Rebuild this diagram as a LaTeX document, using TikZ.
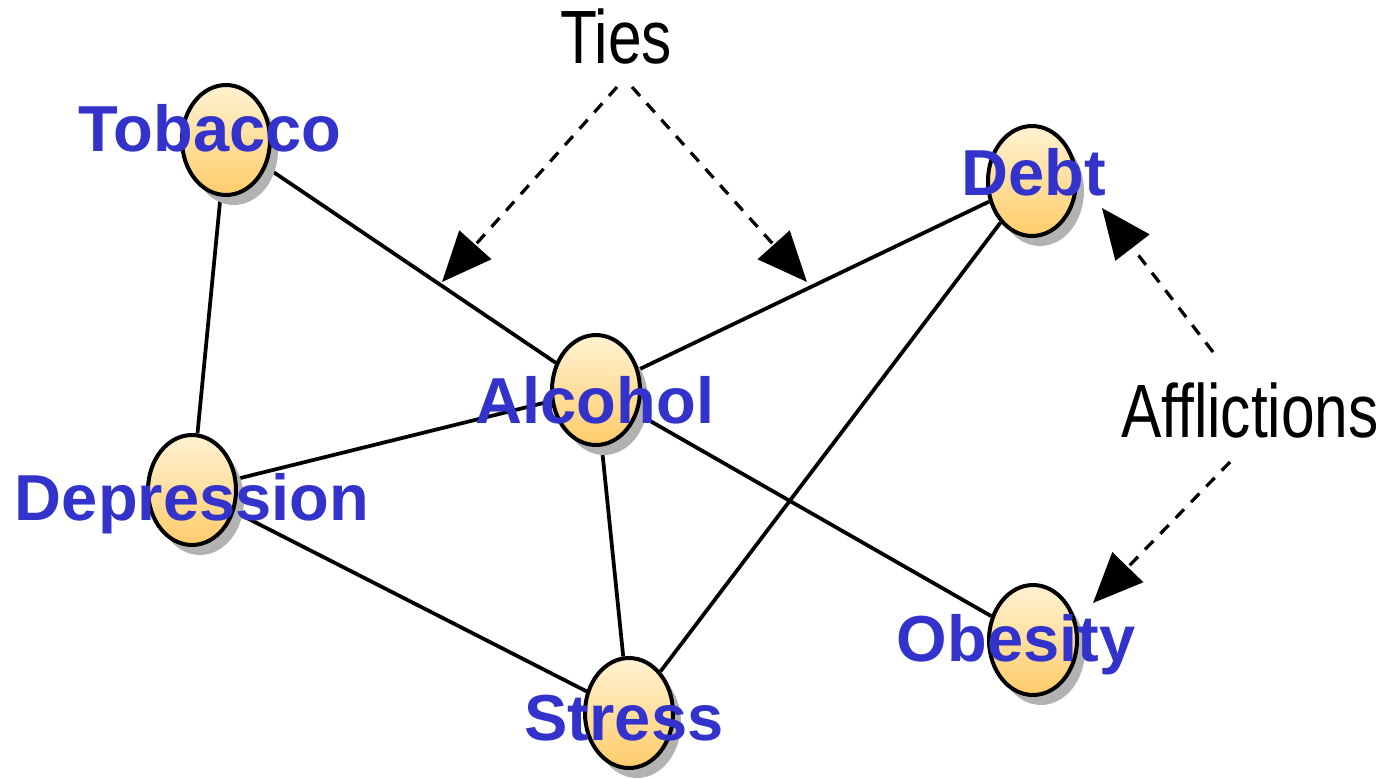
\documentclass[tikz,border=0pt]{standalone}
\usepackage{fontspec}
\setmainfont{Liberation Sans}
\usetikzlibrary{arrows.meta,shapes.geometric,shadows}
\pgfdeclarelayer{bg}
\pgfsetlayers{bg,main}
\definecolor{wordblue}{RGB}{51,51,204}
\definecolor{eggtop}{RGB}{255,242,210}
\definecolor{eggbot}{RGB}{255,204,106}
\tikzset{
    affl/.style={ellipse, draw, line width=0.08cm, minimum width=1.76cm, minimum height=2.2cm, inner sep=0mm,
        top color=eggtop, bottom color=eggbot,
        drop shadow={shadow xshift=0.16cm, shadow yshift=-0.2cm, fill=black!30, opacity=1}}
}
\tikzset{word/.style={anchor=base, inner sep=0mm, text=wordblue, font=\fontsize{37}{44}\selectfont\bfseries}}
\tikzset{note/.style={anchor=base, inner sep=0mm, xscale=.8, font=\fontsize{43}{50}\selectfont}}
\tikzset{tie/.style={line width=0.065cm, dash pattern=on 0.24cm off 0.2cm, -{Triangle[length=1cm, width=0.85cm]}}}

\begin{document}
\begin{tikzpicture}[x=0.02cm, y=-0.02cm]
        \useasboundingbox (0,0) rectangle (1390,778);
        \node (v0) [affl] at (226, 140) {};
        \node (v1) [affl] at (192, 490) {};
        \node (v2) [affl] at (596, 390) {};
        \node (v3) [affl] at (1032, 181) {};
        \node (v4) [affl] at (629, 713) {};
        \node (v5) [affl] at (1033, 640) {};
        \node (w0) [word] at (210, 151) {Tobacco};
        \node (w1) [word] at (192, 520) {Depression};
        \node (w2) [word] at (595, 423) {Alcohol};
        \node (w3) [word] at (1034, 195) {Debt};
        \node (w4) [word] at (624, 740) {Stress};
        \node (w5) [word] at (1016, 661) {Obesity};
        \node (ties) [note] at (616, 63) {Ties};
        \node (affs) [note] at (1250, 437) {Afflictions};
        \coordinate (t1) at (617, 87);
        \coordinate (t2) at (442, 282);
        \coordinate (t3) at (632, 87);
        \coordinate (t4) at (807, 282);
        \coordinate (a1) at (1213, 352);
        \coordinate (a2) at (1102, 208);
        \coordinate (a3) at (1230, 462);
        \coordinate (a4) at (1093, 603);
        \draw [tie] (t1) -- (t2);
        \draw [tie] (t3) -- (t4);
        \draw [tie] (a1) -- (a2);
        \draw [tie] (a3) -- (a4);
        \begin{pgfonlayer}{bg}
                \draw [line width=0.075cm] (v0) edge (v1);
                \draw [line width=0.075cm] (v0) edge (v2);
                \draw [line width=0.075cm] (v1) edge (v2);
                \draw [line width=0.075cm] (v1) edge (v4);
                \draw [line width=0.075cm] (v2) edge (v4);
                \draw [line width=0.075cm] (v2) edge (v3);
                \draw [line width=0.075cm] (v2) edge (v5);
                \draw [line width=0.075cm] (v3) edge (v4);
        \end{pgfonlayer}
\end{tikzpicture}
\end{document}
